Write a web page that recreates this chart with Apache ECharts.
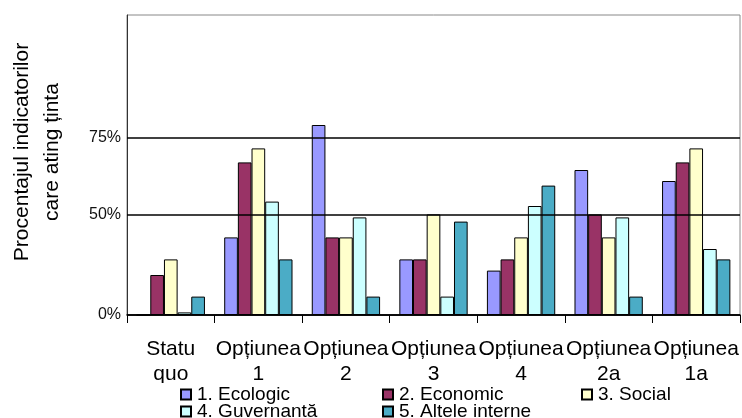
<!DOCTYPE html>
<html>
<head>
<meta charset="utf-8">
<script src="https://cdn.jsdelivr.net/npm/echarts@6/dist/echarts.min.js"></script>
<style>
  html, body { margin: 0; padding: 0; background: #fff; }
  #main { width: 742px; height: 418px; }
</style>
</head>
<body>
<div id="main"></div>
<script>
// categorii (opțiuni)
var categories = ['Statu\nquo', 'Opțiunea\n1', 'Opțiunea\n2', 'Opțiunea\n3', 'Opțiunea\n4', 'Opțiunea\n2a', 'Opțiunea\n1a'];

// valori
var ecologic    = [0,    38.8, 95,   27.8, 22.2, 72.5, 67];
var economic    = [20,   76.3, 38.8, 27.8, 27.8, 50.3, 76.3];
var social      = [27.8, 83.3, 38.8, 50.3, 38.8, 38.8, 83.3];
var guvernanta  = [1.3,  56.7, 48.8, 9.2,  54.5, 48.8, 33];
var altele      = [9.2,  27.8, 9.2,  46.7, 64.7, 9.2,  27.8];

// liniile de grilă și etichetele lor
var gridValues = [0, 50, 88.5];
var gridLabels = ['0%', '50%', '75%'];

var FONT = 'Liberation Sans, Arial, sans-serif';

var chart = echarts.init(document.getElementById('main'));

function bar(name, data, color) {
  return {
    name: name,
    type: 'bar',
    data: data,
    barGap: '0%',
    barCategoryGap: '22%',
    itemStyle: { color: color, borderColor: '#000', borderWidth: 1 },
    emphasis: { disabled: true }
  };
}

var series = [
  bar('1. Ecologic', ecologic, '#9999FF'),
  bar('2. Economic', economic, '#993366'),
  bar('3. Social', social, '#FFFFCC'),
  bar('4. Guvernantă', guvernanta, '#CCFFFF'),
  bar('5. Altele interne', altele, '#4BACC6')
];

// liniile orizontale + etichete axa y
series[4].markLine = {
  silent: true,
  symbol: 'none',
  animation: false,
  lineStyle: { color: '#000', width: 1.5, type: 'solid' },
  label: {
    show: true,
    position: 'start',
    distance: 6,
    color: '#111',
    fontFamily: FONT,
    fontSize: 16
  },
  data: gridValues.map(function (v, i) {
    return {
      yAxis: v,
      label: { formatter: gridLabels[i], padding: i === 0 ? [12, 0, 0, 0] : (i === 1 ? [5, 0, 0, 0] : 0) }
    };
  })
};

// legenda: câte un element pe poziție (3 coloane, 2 rânduri)
function legendItem(name, left, top, pad) {
  return {
    data: [name],
    left: left, top: top,
    itemWidth: 10, itemHeight: 10, itemGap: 0,
    icon: 'rect',
    padding: pad || 0,
    backgroundColor: '#fff',
    selectedMode: false,
    textStyle: { fontFamily: FONT, fontSize: 19, color: '#000', lineHeight: 17, padding: [0, 0, 0, 1] }
  };
}

var option = {
  animation: false,
  backgroundColor: '#fff',
  textStyle: { fontFamily: FONT },
  grid: {
    left: 127, right: 2, top: 15, height: 300,
    show: true, borderColor: '#888', borderWidth: 1, backgroundColor: 'transparent'
  },
  legend: [
    legendItem('1. Ecologic', 140, 383, [2, 0, 0, 40]),
    legendItem('4. Guvernantă', 180, 402),
    legendItem('2. Economic', 382, 385),
    legendItem('5. Altele interne', 382, 402),
    legendItem('3. Social', 581, 385)
  ],
  xAxis: {
    type: 'category',
    data: categories,
    axisLine: { lineStyle: { color: '#000', width: 1.5 } },
    axisTick: { show: true, length: 8, lineStyle: { color: '#000' } },
    axisLabel: {
      interval: 0,
      margin: 22,
      fontFamily: FONT,
      fontSize: 21,
      lineHeight: 25,
      color: '#000'
    }
  },
  yAxis: {
    type: 'value',
    min: 0,
    max: 150,
    interval: 50,
    axisLine: { show: true, lineStyle: { color: '#333', width: 1 } },
    axisTick: { show: false },
    axisLabel: { show: false },
    splitLine: { show: false }
  },
  graphic: [
    {
      type: 'text',
      x: 37,
      y: 152,
      rotation: Math.PI / 2,
      style: {
        text: 'Procentajul indicatorilor\ncare ating ținta',
        font: '21px ' + FONT,
        fill: '#000',
        textAlign: 'center',
        textVerticalAlign: 'middle',
        lineHeight: 30
      }
    }
  ],
  series: series
};

chart.setOption(option);
</script>
</body>
</html>
